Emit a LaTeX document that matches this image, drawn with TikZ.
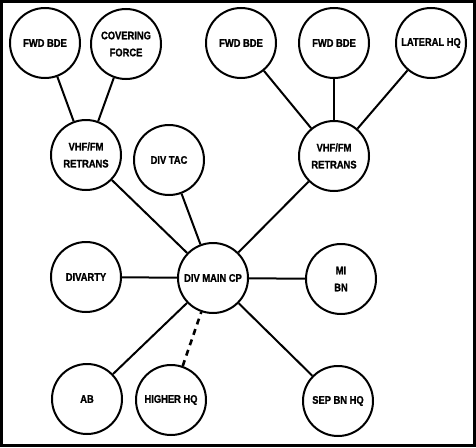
\documentclass[tikz,border=0pt]{standalone}
\usepackage{fontspec}
\setsansfont{Liberation Sans}[FakeStretch=0.85,BoldFeatures={FakeBold=1.2}]
\begin{document}
\begin{tikzpicture}[x=1pt,y=-1pt,
    station/.style={circle,draw,line width=2pt,minimum size=70pt,inner sep=0pt,
      align=center,font=\sffamily\bfseries\fontsize{11}{17}\selectfont},
    link/.style={line width=2pt}]
      \draw[line width=3pt] (1.5,1.5) rectangle (474.5,445.5);
      \draw
        (45,43) node[station] (fwdl){FWD BDE}
        (126,44) node[station] (cover){COVERING\\FORCE}
        (241,43) node[station] (fwdm){FWD BDE}
        (334,43) node[station] (fwdr){FWD BDE}
        (431,43) node[station] (lateral){LATERAL HQ}
        (86,155) node[station] (vhfl){VHF/FM\\RETRANS}
        (169,160) node[station] (divtac){DIV TAC}
        (334,156) node[station] (vhfr){VHF/FM\\RETRANS}
        (86,277) node[station] (divarty){DIVARTY}
        (213,278) node[station] (main){DIV MAIN CP}
        (341,279) node[station] (mibn){MI\\BN}
        (87,399) node[station] (ab){AB}
        (171,400) node[station] (higher){HIGHER HQ}
        (338,401) node[station] (sepbn){SEP BN HQ};
      \begin{scope}[link]
        \draw (fwdl) to (vhfl);
        \draw (cover) to (vhfl);
        \draw (vhfl) to (main);
        \draw (divtac) to (main);
        \draw (fwdm) to (vhfr);
        \draw (fwdr) to (vhfr);
        \draw (lateral) to (vhfr);
        \draw (vhfr) to (main);
        \draw (divarty) to (main);
        \draw (mibn) to (main);
        \draw (ab) to (main);
        \draw[line width=2.6pt,dash pattern=on 6pt off 5pt] (higher) to (main);
        \draw (sepbn) to (main);
      \end{scope}
    \end{tikzpicture}
\end{document}
